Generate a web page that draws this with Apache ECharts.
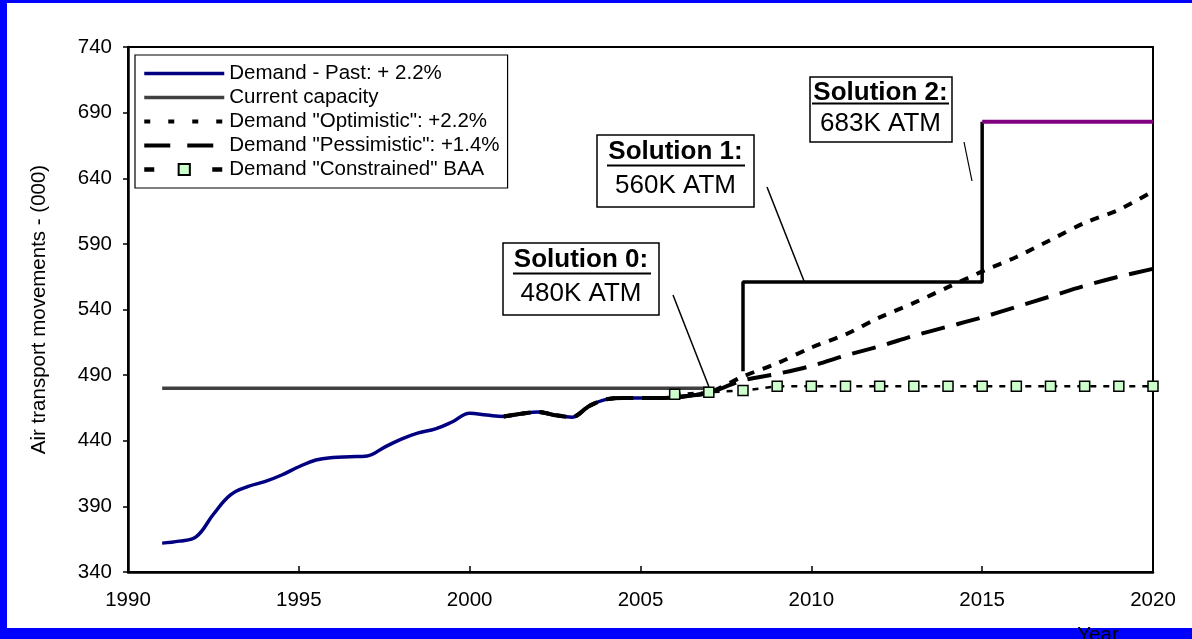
<!DOCTYPE html>
<html><head><meta charset="utf-8">
<script src="https://cdn.jsdelivr.net/npm/echarts@6/dist/echarts.min.js"></script>
<style>
html,body{margin:0;padding:0;background:#0000FF;width:1192px;height:639px;overflow:hidden}
#bg{position:absolute;left:7px;top:3px;width:1185px;height:625px;background:#fff}
#chart{position:absolute;left:0;top:0;width:1192px;height:639px}
</style></head><body><div id="bg"></div><div id="chart"></div>
<script>
const FONT = '"Liberation Sans", Arial, sans-serif';
const seriesNames = ['Demand - Past: + 2.2%', 'Current capacity', 'Demand "Optimistic": +2.2%', 'Demand "Pessimistic": +1.4%', 'Demand "Constrained" BAA'];

const pastYears = [1991,1991.5,1992,1992.5,1993,1993.5,1994,1994.5,1995,1995.5,1996,1996.5,1997,1997.5,1998,1998.5,1999,1999.5,2000,2000.5,2001,2001.5,2002,2002.5,2003,2003.5,2004,2004.5,2005,2005.5,2006,2006.5,2007];
const pastValues = [362,363.5,367,384,398.7,405,408.8,413.9,420.2,425.3,427.3,427.8,428.4,435,441.3,446,449,454.5,460.9,459.6,458.5,460.5,462,459.5,458,466.5,471.5,472.5,472.5,472.5,473,474.5,476.5];

const capacityYears = [1991, 2007];
const capacityValues = [480, 480];

const forecastYears = [2001,2001.5,2002,2002.5,2003,2003.5,2004,2004.5,2005,2005.5,2006,2006.5,2007,2008,2009,2010,2011,2012,2013,2014,2015,2016,2017,2018,2019,2020];
const optimisticValues = [458.5,460.5,462,459.5,458,466.5,471.5,472.5,472.5,472.5,473,474.5,476.5,489,499,511,521,534,545,557,569,580,593,606,616,630];
const pessimisticValues = [458.5,460.5,462,459.5,458,466.5,471.5,472.5,472.5,472.5,473,474.5,476.5,486,491,497,505,512,520,527,534,542,550,558,565,571];

const constrainedYears = [2006,2007,2008,2009,2010,2011,2012,2013,2014,2015,2016,2017,2018,2019,2020];
const constrainedValues = [475.5,477,478.2,481.5,481.5,481.5,481.5,481.5,481.5,481.5,481.5,481.5,481.5,481.5,481.5];

const solution1Years = [2008, 2008, 2015, 2015];
const solution1Values = [493, 561, 561, 683];
const solution2Years = [2015, 2020];
const solution2Values = [683, 683];

const zip = (xs, ys) => xs.map((x, i) => [x, ys[i]]);

const chart = echarts.init(document.getElementById('chart'), null, {renderer: 'canvas'});

function box(x, y, w, h, cx, y1, uy, ux1, ux2, y2, t1, t2) {
  return [
    {type:'rect', z:100, shape:{x:x, y:y, width:w, height:h}, style:{fill:'#fff', stroke:'#000', lineWidth:1.5}},
    {type:'text', z:101, x:cx, y:y1, style:{text:t1, fill:'#000', font:'bold 26px ' + FONT, align:'center', verticalAlign:'middle', textAlign:'center', textVerticalAlign:'middle'}},
    {type:'line', z:101, shape:{x1:ux1, y1:uy, x2:ux2, y2:uy}, style:{stroke:'#000', lineWidth:2}},
    {type:'text', z:101, x:cx, y:y2, style:{text:t2, fill:'#000', font:'26px ' + FONT, align:'center', verticalAlign:'middle', textAlign:'center', textVerticalAlign:'middle'}}
  ];
}

const hidden = {opacity: 0, borderWidth: 0};
const option = {
  backgroundColor: 'transparent',
  animation: false,
  textStyle: {fontFamily: FONT},
  grid: {left: 128, right: 39, top: 47, bottom: 67, show: true, borderColor: '#000', borderWidth: 2, backgroundColor: 'transparent'},
  legend: {
    data: [
      {name: seriesNames[0], itemStyle: hidden, lineStyle: {width: 3.5, color: '#000080'}},
      {name: seriesNames[1], itemStyle: hidden, lineStyle: {width: 3.5, color: '#404040'}},
      {name: seriesNames[2], itemStyle: hidden, lineStyle: {width: 4, color: '#000', type: [6, 18]}},
      {name: seriesNames[3], itemStyle: hidden, lineStyle: {width: 4, color: '#000', type: [26, 17]}},
      {name: seriesNames[4], lineStyle: {width: 4.5, color: '#000', type: [10, 24]}}
    ],
    orient: 'vertical',
    left: 135, top: 55,
    padding: [8, 8, 8, 7],
    itemGap: 3,
    itemWidth: 80, itemHeight: 14,
    backgroundColor: '#fff',
    borderColor: '#000', borderWidth: 1.2,
    textStyle: {fontSize: 20.5, color: '#000', fontFamily: FONT, lineHeight: 20},
    selectedMode: false
  },
  xAxis: {
    type: 'value', min: 1990, max: 2020, interval: 5,
    splitLine: {show: false},
    axisLine: {lineStyle: {color: '#000', width: 2.5}},
    axisTick: {inside: true, length: 6, lineStyle: {color: '#000', width: 1.5}},
    axisLabel: {fontSize: 20.5, color: '#000', margin: 18, fontFamily: FONT, formatter: v => String(v)}
  },
  yAxis: {
    type: 'value', min: 340, max: 740, interval: 50,
    name: 'Air transport movements - (000)',
    nameLocation: 'middle', nameGap: 78, nameRotate: 90,
    nameTextStyle: {fontSize: 20.5, color: '#000', fontFamily: FONT},
    splitLine: {show: false},
    axisLine: {show: true, lineStyle: {color: '#000', width: 2.5}},
    axisTick: {show: true, inside: false, length: 5, lineStyle: {color: '#000', width: 1.5}},
    axisLabel: {fontSize: 20.5, color: '#000', margin: 16, fontFamily: FONT}
  },
  series: [
    {name: seriesNames[0], type: 'line', data: zip(pastYears, pastValues), smooth: 0.4, symbol: 'none',
     lineStyle: {color: '#000080', width: 3.5}, itemStyle: {color: '#000080'}, z: 2},
    {name: seriesNames[1], type: 'line', data: zip(capacityYears, capacityValues), symbol: 'none',
     lineStyle: {color: '#404040', width: 3.5}, itemStyle: {color: '#404040'}, z: 3},
    {name: seriesNames[2], type: 'line', data: zip(forecastYears, optimisticValues), smooth: 0.3, symbol: 'none',
     lineStyle: {color: '#000', width: 4, type: [9, 9]}, itemStyle: {color: '#000'}, z: 4},
    {name: seriesNames[3], type: 'line', data: zip(forecastYears, pessimisticValues), smooth: 0.3, symbol: 'none',
     lineStyle: {color: '#000', width: 4, type: [24, 12]}, itemStyle: {color: '#000'}, z: 4},
    {name: seriesNames[4], type: 'line', data: zip(constrainedYears, constrainedValues), symbol: 'rect', symbolSize: 10,
     lineStyle: {color: '#000', width: 2.5, type: [6, 7]},
     itemStyle: {color: '#CCFFCC', borderColor: '#000', borderWidth: 1.5}, z: 5},
    {name: 'Solution 1', type: 'line', data: zip(solution1Years, solution1Values), symbol: 'none',
     lineStyle: {color: '#000', width: 3.5}, z: 6},
    {name: 'Solution 2', type: 'line', data: zip(solution2Years, solution2Values), symbol: 'none',
     lineStyle: {color: '#800080', width: 4}, z: 7}
  ],
  graphic: [].concat(
    box(503, 243, 156, 72, 581, 260, 273.5, 513, 651, 294, 'Solution 0:', '480K ATM'),
    box(597, 135, 157, 72, 675.5, 152, 165.5, 607, 745, 186, 'Solution 1:', '560K ATM'),
    box(810, 77, 142, 65, 880.5, 92.5, 103.5, 812, 949, 124, 'Solution 2:', '683K ATM'),
    [
      {type:'line', z:99, shape:{x1:673, y1:295, x2:709, y2:387}, style:{stroke:'#000', lineWidth:1.5}},
      {type:'line', z:99, shape:{x1:767, y1:187, x2:804, y2:281}, style:{stroke:'#000', lineWidth:1.5}},
      {type:'line', z:99, shape:{x1:964, y1:142, x2:972, y2:181}, style:{stroke:'#000', lineWidth:1.2}},
      {type:'text', z:101, x:1098, y:635, style:{text:'Year', fill:'#000', font:'20.5px ' + FONT, align:'center', verticalAlign:'middle', textAlign:'center', textVerticalAlign:'middle'}}
    ]
  )
};
chart.setOption(option);
</script></body></html>
